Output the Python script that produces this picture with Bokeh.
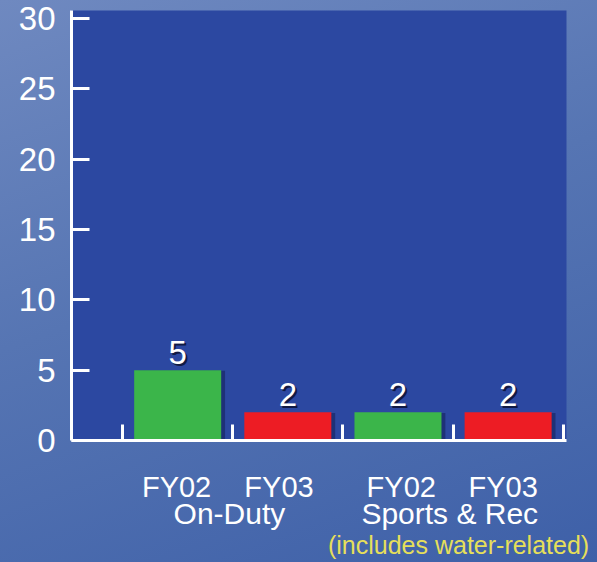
from bokeh.plotting import figure
from bokeh.models import ColumnDataSource, LabelSet, FixedTicker, Range1d, LinearAxis
from bokeh.core.properties import value
from bokeh.embed import file_html
from bokeh.resources import INLINE

# ---- data ----
years = ["FY02", "FY03", "FY02", "FY03"]
values = [5, 2, 2, 2]
groups = ["On-Duty", "Sports & Rec"]
note = "(includes water-related)"
bar_colors = ["#3bb54a", "#ed1c24", "#3bb54a", "#ed1c24"]
y_ticks = [0, 5, 10, 15, 20, 25, 30]

FONT = "Liberation Sans"

xs = [i + 0.5 for i in range(len(values))]
# label placement (layout only)
year_x = [x + d for x, d in zip(xs, [-0.01, -0.08, 0.03, -0.045])]
group_x = [0.97, 2.97]
note_x = 3.05
src = ColumnDataSource(dict(x=xs, top=values, color=bar_colors,
                            label=[str(v) for v in values]))

p = figure(width=597, height=562, output_backend="svg", toolbar_location=None,
           x_range=Range1d(-0.464, 4.03), y_range=Range1d(0, 30.57),
           min_border_left=71, min_border_right=31, min_border_top=10,
           min_border_bottom=122)
p.background_fill_color = "#2c48a1"
p.border_fill_color = None
p.outline_line_color = None
p.grid.visible = False

# bar shadows
p.vbar(x=[v + 0.035 for v in xs], top=[t - 0.05 for t in values], width=0.79,
       bottom=0, fill_color="#141f55", fill_alpha=0.55, line_color=None)
p.vbar(x="x", top="top", width=0.79, bottom=0, source=src,
       fill_color="color", line_color=None)

ax = p.xaxis[0]
ax.ticker = FixedTicker(ticks=[0, 1, 2, 3, 4])
ax.major_label_text_font_size = "0px"
ax.major_label_text_alpha = 0
ax.major_label_standoff = 0
ax.major_tick_in = 16
ax.major_tick_out = 0
ax.minor_tick_line_color = None
ax.axis_line_color = "white"
ax.axis_line_width = 3
ax.major_tick_line_color = "white"
ax.major_tick_line_width = 3

ay = p.yaxis[0]
ay.ticker = FixedTicker(ticks=y_ticks)
ay.major_tick_in = 18
ay.major_tick_out = 0
ay.minor_tick_line_color = None
ay.axis_line_color = "white"
ay.axis_line_width = 3
ay.major_tick_line_color = "white"
ay.major_tick_line_width = 3
ay.major_label_text_color = "white"
ay.major_label_text_font = FONT
ay.major_label_text_font_size = "33px"
ay.major_label_standoff = 16


def label_axis(ticks, labels, size, color, standoff):
    a = LinearAxis(ticker=FixedTicker(ticks=ticks),
                   major_label_overrides={t: l for t, l in zip(ticks, labels)},
                   axis_line_color=None, major_tick_line_color=None,
                   minor_tick_line_color=None, major_tick_in=0,
                   major_tick_out=0, major_label_standoff=standoff,
                   major_label_text_font=FONT,
                   major_label_text_font_size=size,
                   major_label_text_color=color)
    p.add_layout(a, "below")
    return a


label_axis(year_x, years, "29px", "white", 30)
label_axis(group_x, groups, "30px", "white", -9)
label_axis([note_x], [note], "25px", "#e6df5a", -2)

for dx, dy, col in [(2, -2, "#111a44"), (0, 0, "white")]:
    p.add_layout(LabelSet(x="x", y="top", text="label", source=src,
                          x_offset=dx, y_offset=6 + dy, text_align="center",
                          text_baseline="alphabetic", text_font=value(FONT),
                          text_font_size="33px", text_color=col))

html = file_html(p, INLINE)
style = ("<style>html,body{overflow:hidden;margin:0;padding:0;"
         "background:linear-gradient(160deg,#6f89c0 0%,"
         "#5675b3 45%,#3e60a8 100%);}</style>")
html = html.replace("</head>", style + "</head>", 1)
open("out.html", "w").write(html)
